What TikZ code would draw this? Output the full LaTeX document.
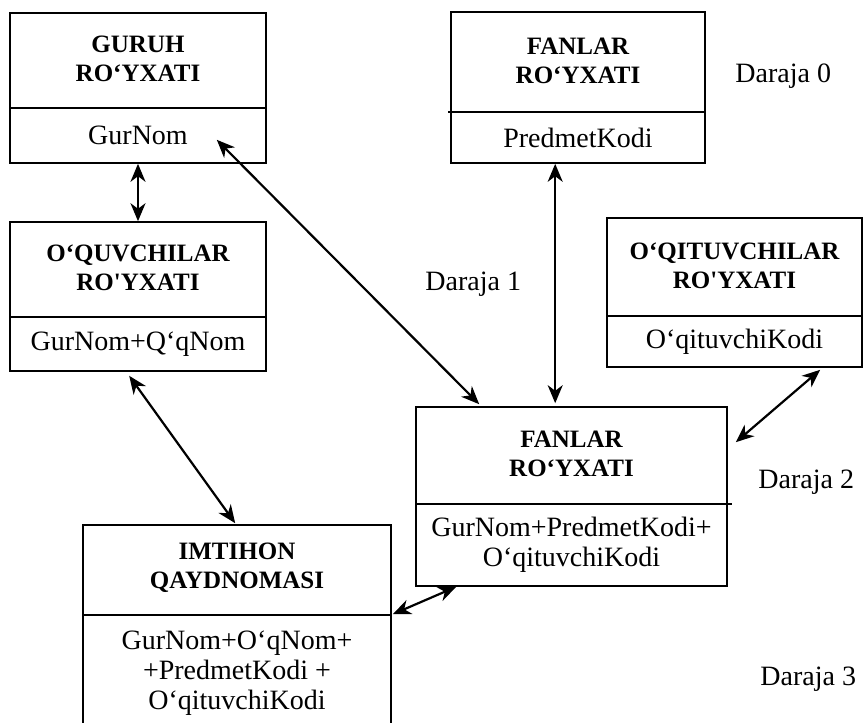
\documentclass[tikz,border=0pt]{standalone}
\usepackage{fontspec}
\setmainfont{Liberation Serif}
\usetikzlibrary{arrows.meta,calc}
\begin{document}
\begin{tikzpicture}[x=0.5pt,y=-0.5pt,
  box/.style={draw,line width=0.8pt,inner sep=0pt,fill=none},
  head/.style={align=center,inner sep=0pt,font=\bfseries\fontsize{12.5}{14.5}\selectfont},
  body/.style={align=center,inner sep=0pt,font=\fontsize{14}{15}\selectfont},
  lvl/.style={anchor=base west,inner sep=0pt,font=\fontsize{14}{15}\selectfont},
  divider/.style={line width=0.8pt},
  link/.style={line width=1.1pt,{Stealth[length=9pt,width=7.5pt,inset=2.8pt]}-{Stealth[length=9pt,width=7.5pt,inset=2.8pt]}}]
\clip (0,0) rectangle (863,723);
% boxes
\node[box,minimum width=128pt,minimum height=75pt] (g) at (138,88) {};
\node[box,minimum width=127pt,minimum height=75.5pt] (f0) at (578,87.5) {};
\node[box,minimum width=128pt,minimum height=74.5pt] (q) at (138,296.5) {};
\node[box,minimum width=127.5pt,minimum height=74.5pt] (t) at (734.5,292.5) {};
\node[box,minimum width=155.5pt,minimum height=89.5pt] (fm) at (571.5,496.5) {};
\node[box,minimum width=154pt,minimum height=103pt] (im) at (237,628) {};
% dividers
\draw[divider] (10,108) -- (266,108);
\draw[divider] (448,112) -- (705,112);
\draw[divider] (10,317) -- (266,317);
\draw[divider] (607,316) -- (862,316);
\draw[divider] (416,504) -- (732,504);
\draw[divider] (83,615) -- (391,615);
% texts
\node[head] (gh) at (138,59) {GURUH\\RO‘YXATI};
\node[body] (gb) at (138,135.5) {GurNom};
\node[head] (f0h) at (578,61) {FANLAR\\RO‘YXATI};
\node[body] (f0b) at (578,137.5) {PredmetKodi};
\node[head] (qh) at (138,268) {O‘QUVCHILAR\\RO\textquotesingle YXATI};
\node[body] (qb) at (138,344) {GurNom+Q‘qNom};
\node[head] (th) at (734.5,266) {O‘QITUVCHILAR\\RO\textquotesingle YXATI};
\node[body] (tb) at (734.5,341.5) {O‘qituvchiKodi};
\node[head] (fmh) at (571.5,454) {FANLAR\\RO‘YXATI};
\node[body] (fmb) at (571.5,545) {GurNom+PredmetKodi+\\O‘qituvchiKodi};
\node[head] (imh) at (237,568) {IMTIHON\\QAYDNOMASI};
\node[body] (imb) at (237,673) {GurNom+O‘qNom+\\+PredmetKodi +\\O‘qituvchiKodi};
% levels
\node[lvl] (d0) at (735,82) {Daraja 0};
\node[lvl] (d1) at (425,290) {Daraja 1};
\node[lvl] (d2) at (758,488) {Daraja 2};
\node[lvl] (d3) at (760,685) {Daraja 3};
% connectors
\coordinate (gin) at ($(g.south east)+(-50,-24)$);
\draw[link] (g.south) -- (q.north);
\draw[link] (gin) -- ($(fm.north west)+(64,-2)$);
\draw[link] ($(f0.south west)+(105,0)$) -- ($(fm.north west)+(140,-3)$);
\draw[link] ($(t.south west)+(214,2)$) -- ($(fm.north east)+(8,36)$);
\draw[link] ($(q.south west)+(120,4)$) -- ($(im.north west)+(153,-1)$);
\draw[link] ($(im.north east)+(1,90)$) -- ($(fm.south west)+(41,0)$);
\end{tikzpicture}
\end{document}
